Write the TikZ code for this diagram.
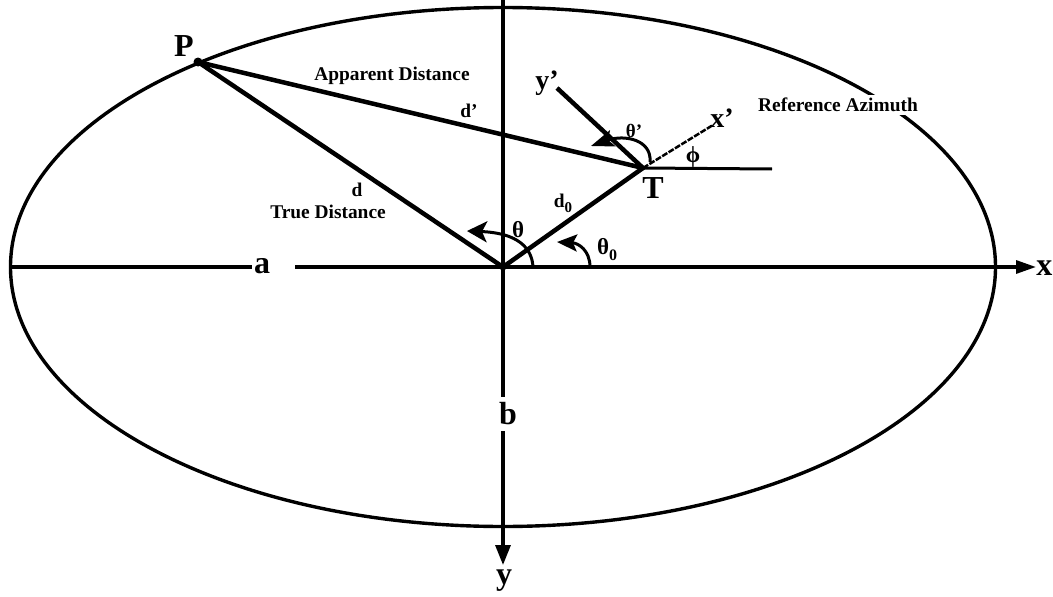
\documentclass[tikz,border=0pt]{standalone}
\usepackage{fontspec}
\setmainfont{Liberation Serif}
\usetikzlibrary{arrows.meta}
\begin{document}
\begin{tikzpicture}[x=1pt,y=-1pt,
  lbl/.style={font=\bfseries\fontsize{19.4}{21}\selectfont, inner sep=0pt},
  big/.style={font=\bfseries\fontsize{32}{34}\selectfont, inner sep=0pt},
  mid/.style={font=\bfseries\fontsize{28}{30}\selectfont, inner sep=0pt},
  grk/.style={font=\bfseries\fontsize{23}{25}\selectfont, inner sep=0pt},
  thk/.style={line width=4.5pt, line cap=round},
  axisline/.style={line width=3.2pt},
  arcline/.style={line width=3pt},
  ptdot/.style={circle, fill, inner sep=0pt, minimum size=9pt}
]
\useasboundingbox (0,0) rectangle (1053,597);
% main points
\coordinate (O) at (503,267);
\coordinate (P) at (198,62);
\coordinate (T) at (643,168);
% ellipse
\draw[line width=3.4pt] (O) ellipse [x radius=492.5, y radius=259.5];
% x axis
\coordinate (xL) at (12,267);
\coordinate (xG1) at (252,267);
\coordinate (xG2) at (295,267);
\coordinate (xE) at (1036,267);
\draw[axisline] (xL) -- (xG1);
\draw[axisline, -{Triangle[length=20pt,width=13pt]}] (xG2) -- (xE);
\node[big] (a) at (262,266) {a};
\node[big, anchor=east] (xlab) at (1052.5,268) {x};
% y axis
\coordinate (yT) at (503,0);
\coordinate (yE) at (503,565);
\draw[axisline, -{Triangle[length=20pt,width=15pt]}] (yT) -- (yE);
\node[big, fill=white, inner ysep=6pt, inner xsep=1pt] (b) at (508,414) {b};
\node[big] (ylab) at (504,581) {y};
% distances
\draw[thk] (P) -- (O);
\draw[thk] (P) -- (T);
\draw[thk] (O) -- (T);
\node[ptdot] (Pdot) at (P) {};
\node[ptdot, minimum size=7pt] (Odot) at (O) {};
% local frame at T
\coordinate (RA) at (772,169);
\coordinate (XP) at (713,125);
\coordinate (YP) at (557,88);
\draw[line width=3pt] (T) -- (RA);
\draw[line width=2.5pt, dash pattern=on 6pt off 1.5pt] (T) -- (XP);
\draw[line width=4.5pt] (YP) -- (T);
% angle arcs
\coordinate (thS) at (533,267);
\coordinate (thE) at (467,231);
\draw[arcline, -{Stealth[length=20pt,width=21pt,inset=5pt]}] (thS) .. controls (532,248) and (518,233) .. (thE);
\coordinate (t0S) at (590,267);
\coordinate (t0E) at (557,242);
\draw[arcline, -{Stealth[length=20pt,width=17pt,inset=4pt]}] (t0S) .. controls (590,250) and (578,243) .. (t0E);
\coordinate (tpS) at (650,162);
\coordinate (tpE) at (591,146);
\draw[arcline, -{Stealth[length=23pt,width=17pt,inset=5pt]}] (tpS) .. controls (652,140) and (625,134) .. (tpE);
% labels
\node[big] (Plab) at (184,46) {P};
\node[big] (Tlab) at (653,188) {T};
\node[lbl] (app) at (392,76) {Apparent Distance};
\node[lbl] (dp) at (469,111) {d'};
\node[lbl] (d) at (357,190) {d};
\node[lbl] (tru) at (328,212) {True Distance};
\node[lbl] (d0) at (563,203) {d\raisebox{-5pt}{\fontsize{15}{15}\selectfont 0}};
\node[grk] (th) at (518,230) {θ};
\node[grk] (th0) at (607,250) {θ\raisebox{-6pt}{\fontsize{16}{16}\selectfont 0}};
\node[font=\bfseries\fontsize{19}{21}\selectfont, inner sep=0pt] (thp) at (634,131) {θ'};
\node[grk] (phi) at (693,157) {ϕ};
\node[mid] (xp) at (722,118) {x'};
\node[mid] (yp) at (547,83) {y'};
\node[lbl, fill=white, inner sep=3pt] (ref) at (838,105) {Reference Azimuth};
\end{tikzpicture}
\end{document}
